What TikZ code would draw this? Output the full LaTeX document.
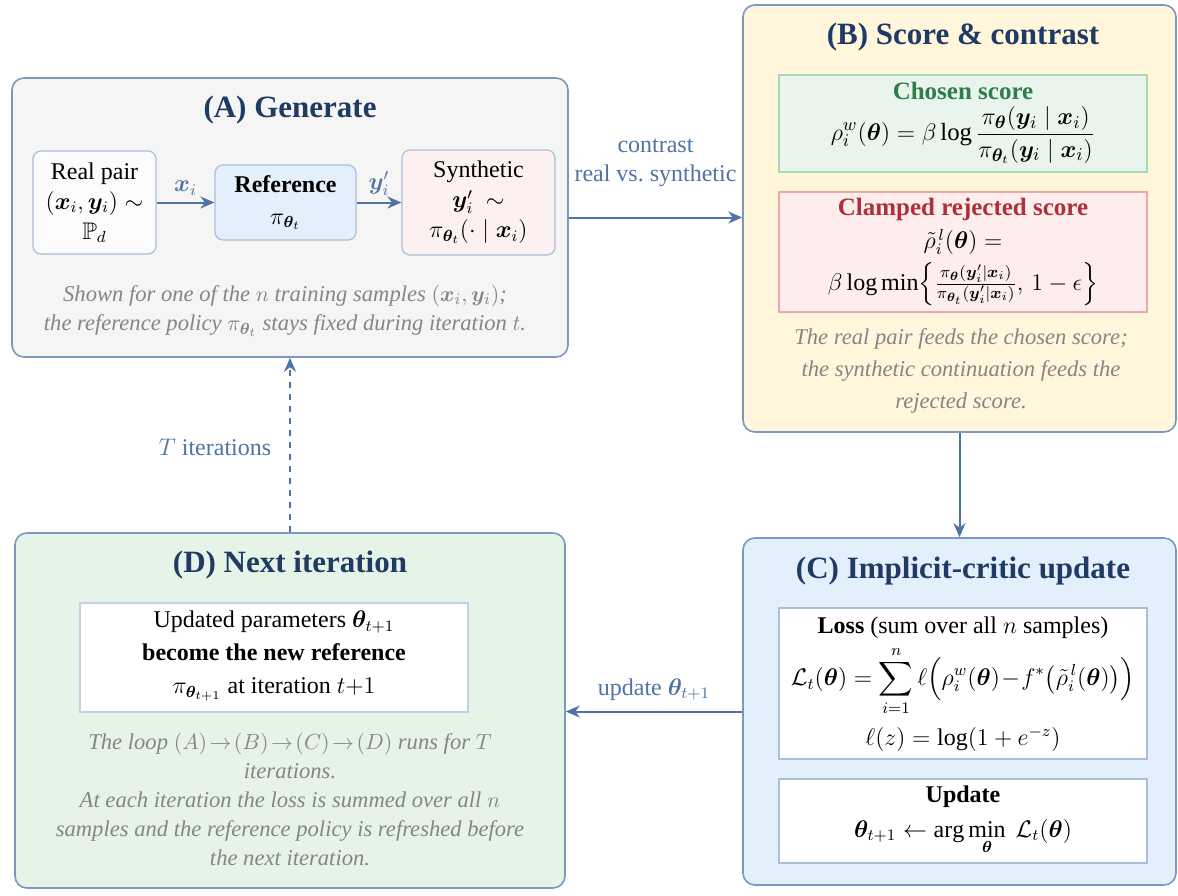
\documentclass[tikz,border=0pt]{standalone}
\usepackage{amsmath,amssymb,bm}
\usepackage{fontspec}
\setmainfont{Liberation Serif}
\usetikzlibrary{arrows.meta,positioning}
\definecolor{outerbd}{HTML}{7C98BF}
\definecolor{fillA}{HTML}{F5F5F6}
\definecolor{fillB}{HTML}{FFF6DC}
\definecolor{fillC}{HTML}{E4EFFC}
\definecolor{fillD}{HTML}{E6F4E7}
\definecolor{titlec}{HTML}{1F3A64}
\definecolor{arrowc}{HTML}{4F73A3}
\definecolor{notec}{HTML}{858585}
\definecolor{chfill}{HTML}{E9F5EC}
\definecolor{chbd}{HTML}{A9D8B4}
\definecolor{chtitle}{HTML}{2E7D4A}
\definecolor{rjfill}{HTML}{FDEDED}
\definecolor{rjbd}{HTML}{EFA8A8}
\definecolor{rjtitle}{HTML}{B0303A}
\definecolor{reffill}{HTML}{E3F0FC}
\definecolor{innerbd}{HTML}{A9BEDA}
\definecolor{synfill}{HTML}{FDF0F0}
\tikzset{
  outerbox/.style={draw=outerbd, line width=0.8pt, rounded corners=6pt, inner sep=0pt},
  smallbox/.style={draw=innerbd, line width=0.6pt, rounded corners=4pt, align=center, inner sep=0pt,
     font=\fontsize{12}{15}\selectfont},
  flatbox/.style={draw=innerbd, line width=0.6pt, inner sep=0pt},
  paneltitle/.style={font=\fontsize{15.5}{18}\selectfont\bfseries, text=titlec, inner sep=0pt},
  boxtitle/.style={font=\fontsize{12.5}{15}\selectfont\bfseries, inner sep=0pt},
  body/.style={font=\fontsize{12}{15}\selectfont, align=center, inner sep=0pt},
  note/.style={font=\fontsize{11.3}{14.5}\selectfont\itshape, text=notec, align=center, inner sep=0pt},
  flow/.style={draw=arrowc, line width=1pt, -{Stealth[length=7pt,width=6pt]}},
  flowlabel/.style={font=\fontsize{12}{14.5}\selectfont, text=arrowc, align=center, inner sep=1pt},
}
\begin{document}
\begin{tikzpicture}[x=0.5pt,y=-0.5pt]
\useasboundingbox (0,0) rectangle (1178,895);
% ---------- Panel A ----------
\node[outerbox, fill=fillA, minimum width=278pt, minimum height=139.5pt] (A) at (290,217.5) {};
\node[paneltitle] (Atitle) at (290,110) {(A) Generate};
\node[smallbox, fill=white!97!gray, minimum width=61.5pt, minimum height=51.5pt] (real) at (94.5,202.5)
  {Real pair\\ $(\boldsymbol{x}_i,\boldsymbol{y}_i)\sim$\\ $\mathbb{P}_d$};
\node[smallbox, fill=reffill, draw=innerbd, minimum width=70.5pt, minimum height=37.5pt] (ref) at (285.5,202.5)
  {\textbf{Reference}\\[1pt] $\pi_{\boldsymbol{\theta}_t}$};
\node[smallbox, fill=synfill, minimum width=76.5pt, minimum height=52.5pt] (syn) at (478.5,202.5)
  {Synthetic\\ $\boldsymbol{y}'_i\ \sim$\\ $\pi_{\boldsymbol{\theta}_t}(\cdot\mid\boldsymbol{x}_i)$};
\draw[flow] (real) -- node[flowlabel, above=2pt] (xl) {$\boldsymbol{x}_i$} (ref);
\draw[flow] (ref) -- node[flowlabel, above=2pt] (yl) {$\boldsymbol{y}'_i$} (syn);
\node[note] (Anote) at (285,310.5)
  {Shown for one of the $n$ training samples $(\boldsymbol{x}_i,\boldsymbol{y}_i)$;\\
   the reference policy $\pi_{\boldsymbol{\theta}_t}$ stays fixed during iteration $t$.};
% ---------- Panel B ----------
\node[outerbox, fill=fillB, minimum width=216.5pt, minimum height=213.5pt] (B) at (959.5,218.5) {};
\node[paneltitle] (Btitle) at (963,37) {(B) Score \& contrast};
\node[draw=chbd, line width=0.6pt, fill=chfill, minimum width=184pt, minimum height=48.5pt, inner sep=0pt] (chosen) at (963,123.5) {};
\node[boxtitle, text=chtitle] (chT) at (963,91) {Chosen score};
\node[body, font=\fontsize{12.4}{15}\selectfont] (chF) at (963,135)
  {$\displaystyle \rho_i^{w}(\boldsymbol{\theta})=\beta\log\frac{\pi_{\boldsymbol{\theta}}(\boldsymbol{y}_i\mid\boldsymbol{x}_i)}{\pi_{\boldsymbol{\theta}_t}(\boldsymbol{y}_i\mid\boldsymbol{x}_i)}$};
\node[draw=rjbd, line width=0.6pt, fill=rjfill, minimum width=184pt, minimum height=60pt, inner sep=0pt] (rej) at (963,252) {};
\node[boxtitle, text=rjtitle] (rjT) at (963,209) {Clamped rejected score};
\node[body] (rjF1) at (963,242) {$\tilde{\rho}_i^{\,l}(\boldsymbol{\theta})=$};
\node[body] (rjF2) at (963,284)
  {$\beta\log\min\Bigl\{\frac{\pi_{\boldsymbol{\theta}}(\boldsymbol{y}'_i|\boldsymbol{x}_i)}{\pi_{\boldsymbol{\theta}_t}(\boldsymbol{y}'_i|\boldsymbol{x}_i)},\,1-\epsilon\Bigr\}$};
\node[note, font=\fontsize{11.3}{16}\selectfont\itshape] (Bnote) at (961,371)
  {The real pair feeds the chosen score;\\ the synthetic continuation feeds the\\ rejected score.};
% ---------- Panel C ----------
\node[outerbox, fill=fillC, minimum width=216.5pt, minimum height=173.5pt] (C) at (959.5,711.5) {};
\node[paneltitle] (Ctitle) at (963,571) {(C) Implicit-critic update};
\node[flatbox, fill=white, minimum width=184pt, minimum height=75.5pt] (loss) at (963,683.5) {};
\node[body] (lossT) at (963,628) {\textbf{Loss} (sum over all $n$ samples)};
\node[body] (lossF) at (963,681)
  {$\displaystyle \mathcal{L}_t(\boldsymbol{\theta})=\sum_{i=1}^{n}\ell\Bigl(\rho_i^{w}(\boldsymbol{\theta})\!-\!f^{*}\bigl(\tilde{\rho}_i^{\,l}(\boldsymbol{\theta})\bigr)\Bigr)$};
\node[body] (lossZ) at (963,739) {$\ell(z)=\log(1+e^{-z})$};
\node[flatbox, fill=white, minimum width=184pt, minimum height=42pt] (upd) at (963,821) {};
\node[body] (updT) at (963,797) {\textbf{Update}};
\node[body] (updF) at (963,837)
  {$\displaystyle \boldsymbol{\theta}_{t+1}\leftarrow\arg\min_{\boldsymbol{\theta}}\ \mathcal{L}_t(\boldsymbol{\theta})$};
% ---------- Panel D ----------
\node[outerbox, fill=fillD, minimum width=275pt, minimum height=177.5pt] (D) at (290,710.5) {};
\node[paneltitle] (Dtitle) at (290,565) {(D) Next iteration};
\node[draw=innerbd!70, line width=0.6pt, fill=white, minimum width=194pt, minimum height=54.5pt, inner sep=0pt] (Dbox) at (274,657.5) {};
\node[body, font=\fontsize{12}{16.5}\selectfont] (Dtext) at (274,656)
  {Updated parameters $\boldsymbol{\theta}_{t+1}$\\ \textbf{become the new reference}\\ $\pi_{\boldsymbol{\theta}_{t+1}}$ at iteration $t{+}1$};
\node[note] (Dnote) at (290,799)
  {The loop $(A)\!\to\!(B)\!\to\!(C)\!\to\!(D)$ runs for $T$\\ iterations.\\
   At each iteration the loss is summed over all $n$\\
   samples and the reference policy is refreshed before\\ the next iteration.};
% ---------- Connectors ----------
\draw[flow] (A.east) -- node[flowlabel, above=14pt] (cl) {contrast\\ real vs.\ synthetic} (A.east -| B.west);
\draw[flow] (B.south) -- (C.north);
\draw[flow] (C.west) -- node[flowlabel, above=4pt] (ul) {update $\boldsymbol{\theta}_{t+1}$} (C.west -| D.east);
\draw[flow, dashed] (D.north) -- (A.south);
\node[flowlabel] (Tl) at (215,447) {$T$ iterations};
\end{tikzpicture}
\end{document}
